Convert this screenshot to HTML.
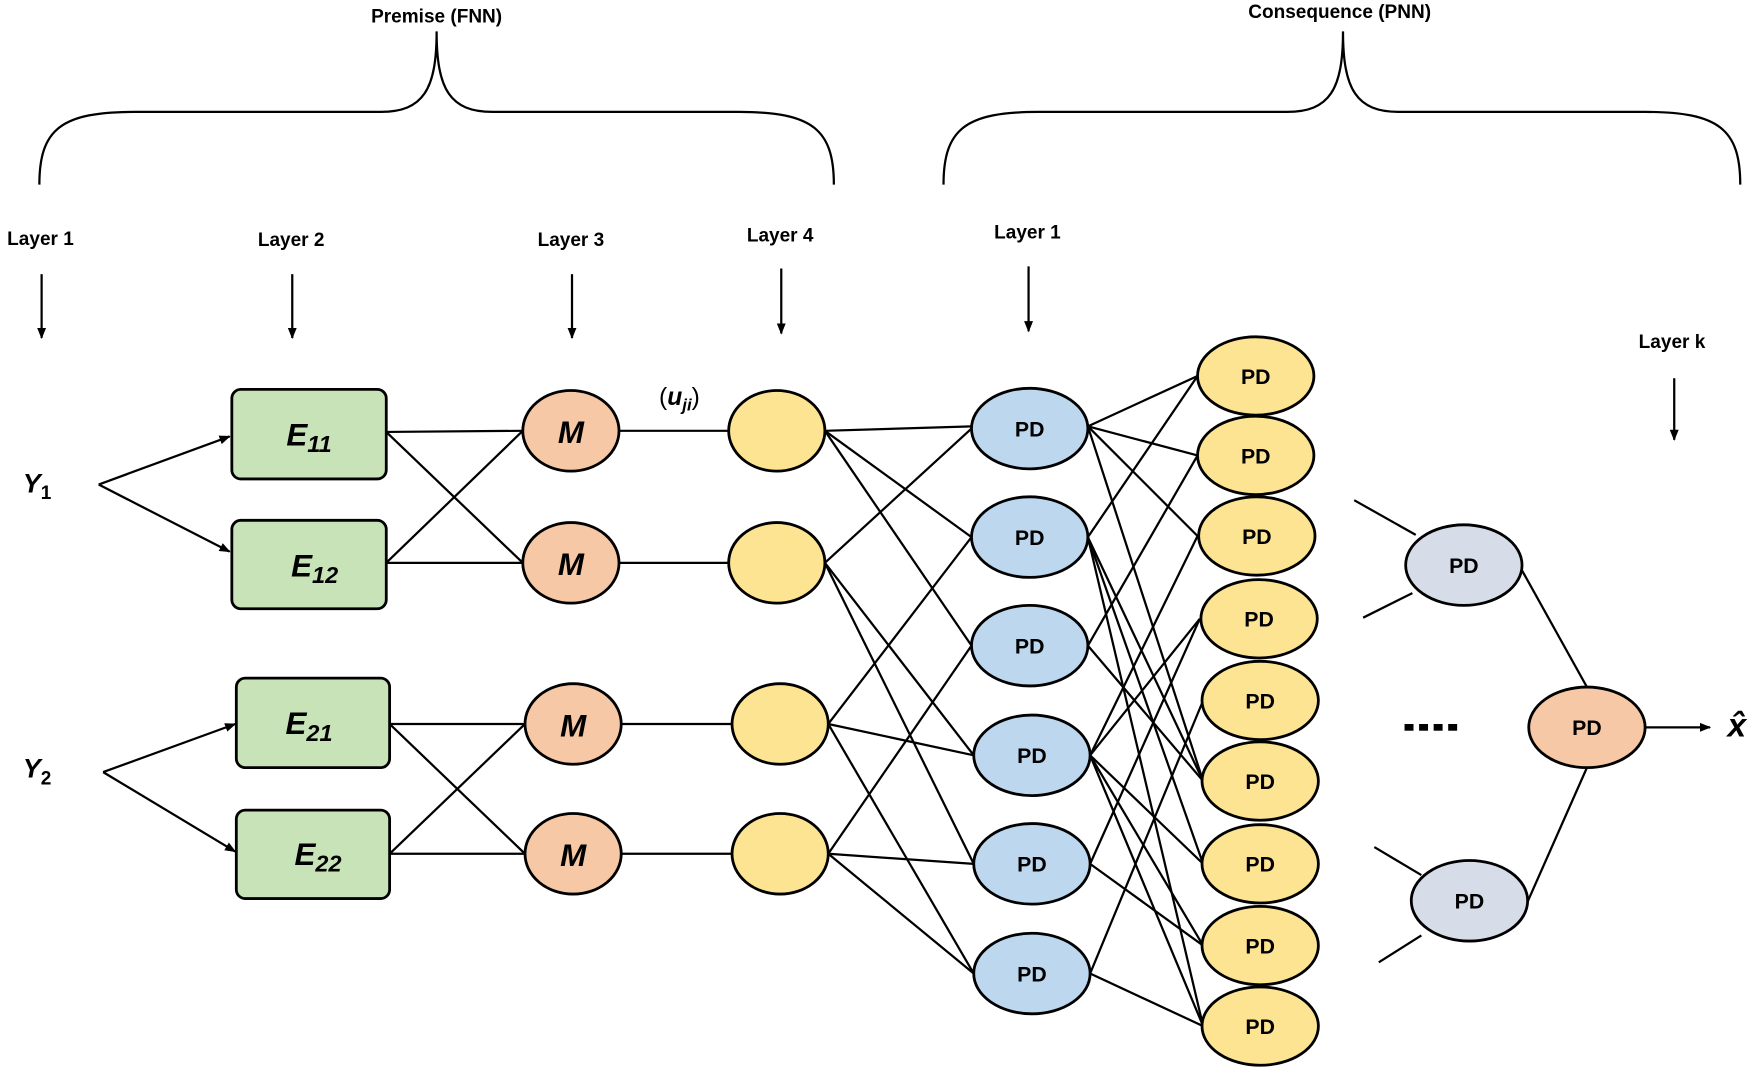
<!DOCTYPE html>
<html><head><meta charset="utf-8"><style>
html,body{margin:0;padding:0;background:#fff;}
svg{display:block;}
text{font-family:"Liberation Sans",sans-serif;}
</style></head><body>
<svg width="1755" height="1072" viewBox="0 0 1568 958" xmlns="http://www.w3.org/2000/svg">
<defs><marker id="ah" markerWidth="10" markerHeight="10" refX="9" refY="5" orient="auto" markerUnits="userSpaceOnUse"><path d="M0,1 L10,5 L0,9 z" fill="#000"/></marker></defs>
<g fill="none" stroke="#000" stroke-width="2">
<path d="M35,165 C35,115 55,100 120,100 L340,100 C378,100 390,80 390,28 C390,80 402,100 440,100 L660,100 C725,100 745,115 745,165"/>
<path d="M843,165 C843,115 863,100 928,100 L1150,100 C1188,100 1200,80 1200,28 C1200,80 1212,100 1250,100 L1470,100 C1535,100 1555,115 1555,165"/>
</g>
<g font-weight="bold" font-size="17" text-anchor="middle">
<text x="390" y="20">Premise (FNN)</text>
<text x="1197" y="16">Consequence (PNN)</text>
<text x="36" y="219">Layer 1</text><text x="260" y="220">Layer 2</text><text x="510" y="220">Layer 3</text><text x="697" y="216">Layer 4</text><text x="918" y="213">Layer 1</text><text x="1494" y="311">Layer k</text>
</g>
<g stroke="#000" stroke-width="2" marker-end="url(#ah)">
<line x1="37" y1="245" x2="37" y2="302"/><line x1="261" y1="245" x2="261" y2="302"/><line x1="511" y1="245" x2="511" y2="302"/><line x1="698" y1="240" x2="698" y2="298"/><line x1="919" y1="238" x2="919" y2="296"/><line x1="1496" y1="338" x2="1496" y2="393"/>
<line x1="88" y1="433" x2="205" y2="390"/><line x1="88" y1="433" x2="205" y2="493"/>
<line x1="92" y1="690" x2="210" y2="647"/><line x1="92" y1="690" x2="210" y2="761"/>
<line x1="1470" y1="650" x2="1528" y2="650"/>
</g>
<g stroke="#000" stroke-width="2">
<line x1="345" y1="386" x2="467" y2="385"/><line x1="345" y1="386" x2="467" y2="503"/><line x1="345" y1="503" x2="467" y2="385"/><line x1="345" y1="503" x2="467" y2="503"/>
<line x1="348" y1="647" x2="469" y2="647"/><line x1="348" y1="647" x2="469" y2="763"/><line x1="348" y1="763" x2="469" y2="647"/><line x1="348" y1="763" x2="469" y2="763"/>
<line x1="553" y1="385" x2="651" y2="385"/><line x1="553" y1="503" x2="651" y2="503"/><line x1="555" y1="647" x2="654" y2="647"/><line x1="555" y1="763" x2="654" y2="763"/>
<!-- L4 to PD -->
<line x1="737" y1="385" x2="868" y2="381"/><line x1="737" y1="385" x2="868" y2="480"/><line x1="737" y1="385" x2="868" y2="577"/>
<line x1="737" y1="503" x2="868" y2="383"/><line x1="737" y1="503" x2="870" y2="675"/><line x1="737" y1="503" x2="870" y2="772"/>
<line x1="740" y1="647" x2="868" y2="480"/><line x1="740" y1="647" x2="870" y2="675"/><line x1="740" y1="647" x2="870" y2="870"/>
<line x1="740" y1="763" x2="868" y2="577"/><line x1="740" y1="763" x2="870" y2="772"/><line x1="740" y1="763" x2="870" y2="870"/>
<!-- PD to yellow -->
<line x1="972" y1="381" x2="1070" y2="336"/><line x1="972" y1="381" x2="1070" y2="407"/><line x1="972" y1="381" x2="1070" y2="479"/><line x1="972" y1="381" x2="1075" y2="698"/>
<line x1="972" y1="480" x2="1070" y2="336"/><line x1="972" y1="480" x2="1075" y2="698"/><line x1="972" y1="480" x2="1075" y2="772"/><line x1="972" y1="480" x2="1075" y2="917"/>
<line x1="972" y1="577" x2="1070" y2="407"/><line x1="972" y1="577" x2="1075" y2="698"/>
<line x1="974" y1="675" x2="1070" y2="479"/><line x1="974" y1="675" x2="1075" y2="772"/><line x1="974" y1="675" x2="1075" y2="845"/><line x1="974" y1="675" x2="1075" y2="917"/><line x1="974" y1="675" x2="1072" y2="553"/>
<line x1="974" y1="772" x2="1072" y2="553"/><line x1="974" y1="772" x2="1075" y2="845"/>
<line x1="974" y1="870" x2="1075" y2="626"/><line x1="974" y1="870" x2="1075" y2="917"/>
<line x1="1210" y1="447" x2="1265" y2="478"/><line x1="1218" y1="552" x2="1262" y2="530"/>
<line x1="1228" y1="757" x2="1270" y2="782"/><line x1="1232" y1="860" x2="1270" y2="836"/>
<line x1="1359" y1="508" x2="1418" y2="614"/><line x1="1364" y1="808" x2="1418" y2="686"/>
</g>
<g stroke="#000" stroke-width="2.5">
<rect x="207" y="348" width="138" height="80" rx="8" fill="#c9e3b8"/>
<rect x="207" y="465" width="138" height="79" rx="8" fill="#c9e3b8"/>
<rect x="211" y="606" width="137" height="80" rx="8" fill="#c9e3b8"/>
<rect x="211" y="724" width="137" height="79" rx="8" fill="#c9e3b8"/>
<g fill="#f6c8a6"><ellipse cx="510" cy="385" rx="43" ry="36"/><ellipse cx="510" cy="503" rx="43" ry="36"/><ellipse cx="512" cy="647" rx="43" ry="36"/><ellipse cx="512" cy="763" rx="43" ry="36"/><ellipse cx="1418" cy="650" rx="52" ry="36"/></g>
<g fill="#fde493"><ellipse cx="694" cy="385" rx="43" ry="36"/><ellipse cx="694" cy="503" rx="43" ry="36"/><ellipse cx="697" cy="647" rx="43" ry="36"/><ellipse cx="697" cy="763" rx="43" ry="36"/>
<ellipse cx="1122" cy="336" rx="52" ry="35"/><ellipse cx="1122" cy="407" rx="52" ry="35"/><ellipse cx="1123" cy="479" rx="52" ry="35"/><ellipse cx="1125" cy="553" rx="52" ry="35"/><ellipse cx="1126" cy="626" rx="52" ry="35"/><ellipse cx="1126" cy="698" rx="52" ry="35"/><ellipse cx="1126" cy="772" rx="52" ry="35"/><ellipse cx="1126" cy="845" rx="52" ry="35"/><ellipse cx="1126" cy="917" rx="52" ry="35"/></g>
<g fill="#bdd7ee"><ellipse cx="920" cy="383" rx="52" ry="36"/><ellipse cx="920" cy="480" rx="52" ry="36"/><ellipse cx="920" cy="577" rx="52" ry="36"/><ellipse cx="922" cy="675" rx="52" ry="36"/><ellipse cx="922" cy="772" rx="52" ry="36"/><ellipse cx="922" cy="870" rx="52" ry="36"/></g>
<g fill="#d7dde8"><ellipse cx="1308" cy="505" rx="52" ry="36"/><ellipse cx="1313" cy="805" rx="52" ry="36"/></g>
</g>
<g font-family="Liberation Serif,serif" font-weight="bold" font-style="italic" font-size="28" text-anchor="middle">
<text x="276" y="398">E<tspan font-size="21" dy="6">11</tspan></text>
<text x="281" y="515">E<tspan font-size="21" dy="6">12</tspan></text>
<text x="276" y="656">E<tspan font-size="21" dy="6">21</tspan></text>
<text x="284" y="773">E<tspan font-size="21" dy="6">22</tspan></text>
<text x="510" y="396">M</text><text x="510" y="514">M</text><text x="512" y="658">M</text><text x="512" y="774">M</text>
<text x="33" y="440" font-size="24">Y<tspan font-size="17" font-style="normal" dy="6">1</tspan></text>
<text x="33" y="695" font-size="24">Y<tspan font-size="17" font-style="normal" dy="6">2</tspan></text>
<text x="607" y="362" font-size="22"><tspan font-style="normal" font-weight="normal">(</tspan>u<tspan font-size="15" dy="5">ji</tspan><tspan font-style="normal" font-weight="normal" dy="-5">)</tspan></text>
<text x="1552" y="658" font-size="30">x̂</text>
</g>
<g font-size="19" text-anchor="middle" font-weight="bold">
<text x="920" y="390">PD</text><text x="920" y="487">PD</text><text x="920" y="584">PD</text><text x="922" y="682">PD</text><text x="922" y="779">PD</text><text x="922" y="877">PD</text>
<text x="1122" y="343">PD</text><text x="1122" y="414">PD</text><text x="1123" y="486">PD</text><text x="1125" y="560">PD</text><text x="1126" y="633">PD</text><text x="1126" y="705">PD</text><text x="1126" y="779">PD</text><text x="1126" y="852">PD</text><text x="1126" y="924">PD</text>
<text x="1308" y="512">PD</text><text x="1313" y="812">PD</text><text x="1418" y="657">PD</text>
</g>
<g fill="#000"><rect x="1255" y="647" width="8" height="6"/><rect x="1268" y="647" width="8" height="6"/><rect x="1281" y="647" width="8" height="6"/><rect x="1294" y="647" width="8" height="6"/></g>
</svg>
</body></html>
